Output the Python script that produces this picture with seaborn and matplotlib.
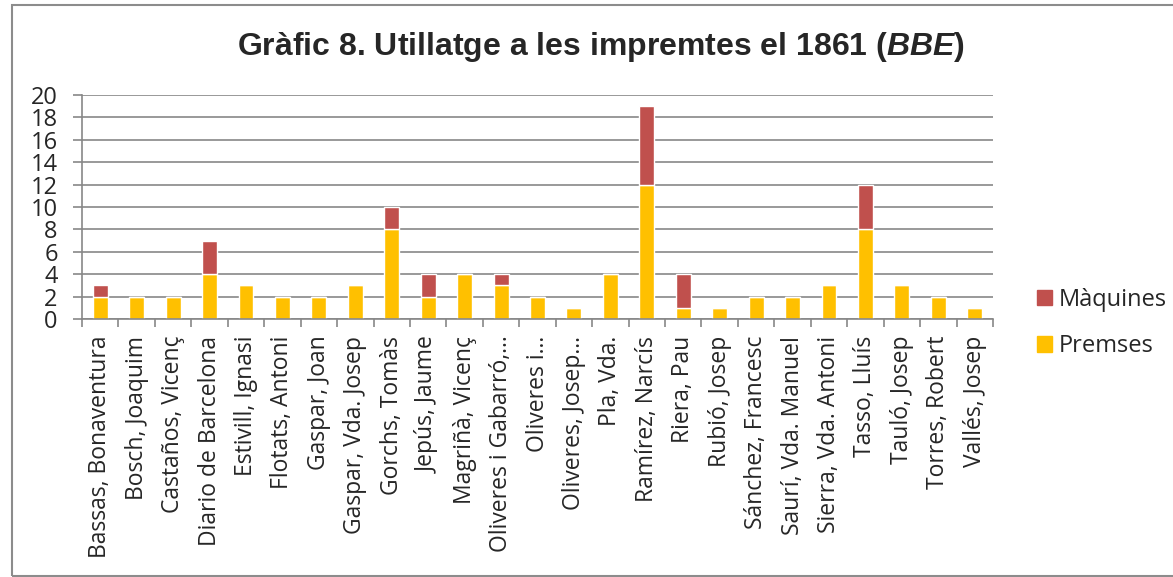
import matplotlib
matplotlib.use("Agg")
import matplotlib.pyplot as plt
import matplotlib.patches as mpatches
import seaborn as sns
import numpy as np

categories = ["Bassas, Bonaventura", "Bosch, Joaquim", "Castaños, Vicenç", "Diario de Barcelona",
              "Estivill, Ignasi", "Flotats, Antoni", "Gaspar, Joan", "Gaspar, Vda. Josep",
              "Gorchs, Tomàs", "Jepús, Jaume", "Magriñà, Vicenç", "Oliveres i Gabarró,…",
              "Oliveres i…", "Oliveres, Josep…", "Pla, Vda.", "Ramírez, Narcís", "Riera, Pau",
              "Rubió, Josep", "Sánchez, Francesc", "Saurí, Vda. Manuel", "Sierra, Vda. Antoni",
              "Tasso, Lluís", "Tauló, Josep", "Torres, Robert", "Vallés, Josep"]
premses = [2, 2, 2, 4, 3, 2, 2, 3, 8, 2, 4, 3, 2, 1, 4, 12, 1, 1, 2, 2, 3, 8, 3, 2, 1]
maquines = [1, 0, 0, 3, 0, 0, 0, 0, 2, 2, 0, 1, 0, 0, 0, 7, 3, 0, 0, 0, 0, 4, 0, 0, 0]
yticks = list(range(0, 21, 2))

sns.set_style("white")
plt.rcParams['font.family'] = ['Open Sans', 'DejaVu Sans']
plt.rcParams['mathtext.fontset'] = 'custom'
plt.rcParams['mathtext.rm'] = 'Liberation Sans:bold'
plt.rcParams['mathtext.it'] = 'Liberation Sans:bold:italic'

C_P = "#FFC000"
C_M = "#C0504D"
GRID = "#878787"

fig = plt.figure(figsize=(11.73, 5.77), dpi=100)
ax = fig.add_axes([82/1173, 1-319/577, (993-82)/1173, (319-95)/577])

sns.barplot(x=categories, y=premses, color=C_P, width=0.41, ax=ax, saturation=1)
sns.barplot(x=categories, y=maquines, bottom=premses, color=C_M, width=0.41, ax=ax, saturation=1)

ax.set_xlim(-0.5, len(categories) - 0.5)
ax.set_ylim(0, 20)
ax.set_yticks(yticks)
ax.set_yticklabels([str(v) for v in yticks], fontsize=17)
ax.yaxis.grid(True, color=GRID, linewidth=1.2)
ax.set_axisbelow(True)
for s in ["top", "right"]:
    ax.spines[s].set_visible(False)
for s in ["left", "bottom"]:
    ax.spines[s].set_color(GRID)
    ax.spines[s].set_linewidth(1.2)
ax.tick_params(axis='y', length=6.5, color=GRID, width=1.2, pad=11, left=True)
ax.tick_params(axis='x', which='major', length=0, labelsize=16.5, pad=12, rotation=90)
ax.set_xticks(np.arange(-0.5, len(categories), 1.0), minor=True)
ax.tick_params(axis='x', which='minor', length=6, color=GRID, width=1.2, bottom=True)
ax.set_xlabel("")
ax.set_ylabel("")

fig.text(0.512, 0.918, r"Gràfic 8. Utillatge a les impremtes el 1861 ($\mathit{BBE}$)",
         ha='center', va='center', fontsize=23, fontweight='bold', family='Liberation Sans')

handles = [mpatches.Patch(color=C_M, label="Màquines"), mpatches.Patch(color=C_P, label="Premses")]
fig.legend(handles=handles, loc='center left', bbox_to_anchor=(1020/1173, 1-323/577),
           frameon=False, fontsize=17, labelspacing=0.95, handlelength=0.65, handleheight=0.65,
           handletextpad=0.3, borderpad=0.2)

fig.add_artist(mpatches.Rectangle((12/1173, 1/577), 1.2, 571/577, transform=fig.transFigure,
                                  fill=False, edgecolor="#8c8c8c", linewidth=1.5))

fig.savefig("out.png", dpi=100)
